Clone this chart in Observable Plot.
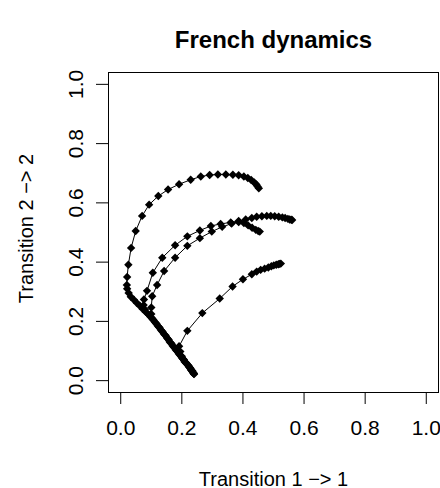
<!DOCTYPE html>
<html><head><meta charset="utf-8">
<script src="https://cdn.jsdelivr.net/npm/d3@7"></script>
<script src="https://cdn.jsdelivr.net/npm/@observablehq/plot@0.6"></script>
<style>body{margin:0;background:#fff;}</style>
</head><body><div id="chart"></div>
<script>
const titleText = "French dynamics";
const xLabel = "Transition 1 \u2212> 1";
const yLabel = "Transition 2 \u2212> 2";
const xTicks = [0, 0.2, 0.4, 0.6, 0.8, 1.0];
const yTicks = [0, 0.2, 0.4, 0.6, 0.8, 1.0];
const seriesNames = ["A", "B", "C", "D"];

const curveAx = [0.239,0.232,0.226,0.219,0.209,0.200,0.190,0.180,0.170,0.160,0.151,0.141,0.131,0.121,0.111,0.101,0.092,0.082,0.072,0.062,0.052,0.043,0.033,0.026,0.021,0.020,
  0.021,0.025,0.034,0.049,0.070,0.093,0.123,0.155,0.191,0.229,0.262,0.291,0.318,0.344,0.367,0.386,0.403,0.416,0.427,0.437,0.444,0.448,0.452];
const curveAy = [0.024,0.034,0.044,0.054,0.064,0.077,0.091,0.104,0.118,0.131,0.145,0.158,0.172,0.185,0.199,0.212,0.222,0.232,0.242,0.253,0.263,0.273,0.283,0.296,0.310,0.323,
  0.350,0.391,0.448,0.505,0.556,0.594,0.623,0.645,0.663,0.678,0.689,0.694,0.696,0.696,0.695,0.693,0.689,0.684,0.677,0.669,0.662,0.655,0.649];

const curveBx = [0.240,0.235,0.229,0.223,0.215,0.206,0.196,0.186,0.176,0.166,0.157,0.147,0.137,0.127,0.117,0.107,0.097,0.087,0.079,0.075,
  0.076,0.086,0.105,0.136,0.178,0.218,0.259,0.295,0.327,0.360,0.386,0.409,0.429,0.445,0.462,0.478,0.491,0.504,0.517,0.529,0.538,0.547,0.553,0.558,0.561];
const curveBy = [0.022,0.030,0.039,0.049,0.059,0.071,0.084,0.098,0.111,0.125,0.138,0.152,0.165,0.179,0.192,0.205,0.216,0.227,0.240,0.255,
  0.274,0.303,0.364,0.415,0.457,0.487,0.507,0.522,0.529,0.534,0.539,0.544,0.549,0.553,0.555,0.556,0.556,0.555,0.553,0.551,0.549,0.546,0.544,0.543,0.542];

const curveCx = [0.238,0.234,0.228,0.221,0.212,0.203,0.193,0.183,0.173,0.163,0.154,0.144,0.134,0.124,0.114,0.104,0.100,
  0.100,0.103,0.119,0.142,0.178,0.218,0.259,0.298,0.332,0.363,0.386,0.403,0.417,0.430,0.442,0.450,0.455];
const curveCy = [0.026,0.033,0.042,0.051,0.062,0.074,0.087,0.101,0.114,0.128,0.141,0.155,0.168,0.182,0.195,0.208,0.225,
  0.247,0.285,0.323,0.370,0.415,0.455,0.481,0.503,0.519,0.530,0.535,0.532,0.524,0.516,0.509,0.505,0.503];

const curveDx = [0.239,0.231,0.223,0.214,0.206,0.200,0.195,0.191,0.218,0.267,0.324,0.366,0.400,0.429,0.445,0.458,0.471,0.483,0.493,0.501,0.509,0.516,0.520,0.524];
const curveDy = [0.024,0.035,0.047,0.059,0.071,0.082,0.098,0.116,0.168,0.228,0.277,0.318,0.342,0.359,0.368,0.374,0.378,0.382,0.386,0.389,0.391,0.393,0.394,0.395];

const allX = [curveAx, curveBx, curveCx, curveDx];
const allY = [curveAy, curveBy, curveCy, curveDy];
const rows = seriesNames.flatMap((s, k) => allX[k].map((x, i) => ({series: s, x, y: allY[k][i]})));

const diamond = {
  draw(ctx, size) {
    const s = Math.sqrt(size / Math.PI);
    ctx.moveTo(0, -s); ctx.lineTo(s, 0); ctx.lineTo(0, s); ctx.lineTo(-s, 0); ctx.closePath();
  }
};
const fmt = d3.format(".1f");

const plot = Plot.plot({
  width: 440, height: 488,
  marginLeft: 108, marginRight: 2, marginTop: 72, marginBottom: 96,
  x: {domain: [-0.04, 1.04]},
  y: {domain: [-0.04, 1.04]},
  style: {fontFamily: "'Liberation Sans', Arial, Helvetica, sans-serif", background: "white", color: "black"},
  marks: [
    Plot.frame({stroke: "black", strokeWidth: 1}),
    Plot.axisX(xTicks, {tickSize: 12, tickPadding: 16, fontSize: 21, tickFormat: fmt, label: null}),
    Plot.axisY(yTicks, {tickSize: 12, tickFormat: () => "", label: null}),
    Plot.text(yTicks, {y: d => d, frameAnchor: "left", dx: -26, rotate: -90, lineAnchor: "bottom", textAnchor: "middle", text: fmt, fontSize: 21}),
    Plot.line(rows, {x: "x", y: "y", z: "series", stroke: "black", strokeWidth: 1}),
    Plot.dot(rows, {x: "x", y: "y", symbol: diamond, r: 4.2, fill: "black", stroke: "none"}),
    Plot.text([titleText], {frameAnchor: "top", dy: -25, lineAnchor: "bottom", fontWeight: "bold", fontSize: 24, text: d => d}),
    Plot.text([xLabel], {frameAnchor: "bottom", dy: 93, lineAnchor: "bottom", textAnchor: "middle", fontSize: 20, text: d => d}),
    Plot.text([yLabel], {frameAnchor: "left", dx: -76, dy: -4, rotate: -90, lineAnchor: "bottom", textAnchor: "middle", fontSize: 20, text: d => d})
  ]
});
document.getElementById("chart").append(plot);
</script>
</body></html>
